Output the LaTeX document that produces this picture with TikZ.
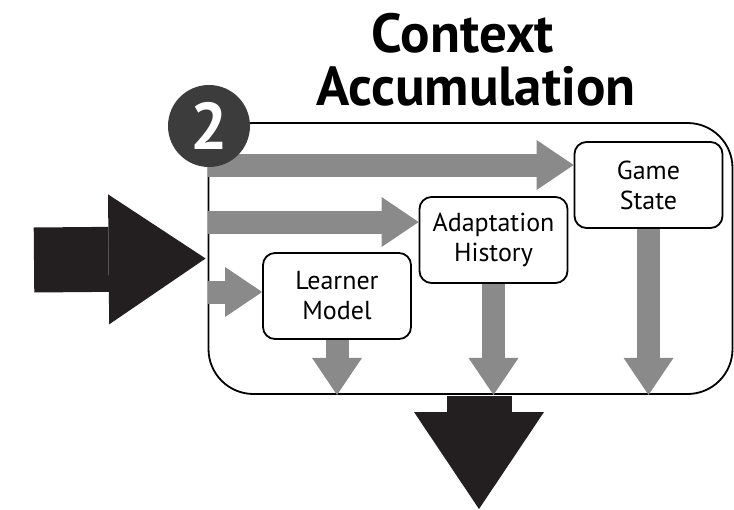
\documentclass[tikz,border=0pt]{standalone}
\usepackage{fontspec}
\setmainfont{PT Sans}
\newfontfamily\headfont{PT Sans}
\usetikzlibrary{arrows.meta}
\definecolor{arrowgray}{HTML}{8A8A8A}
\definecolor{arrowblack}{HTML}{231F20}
\definecolor{badgegray}{HTML}{3C3C3C}
\begin{document}
\begin{tikzpicture}[x=1pt, y=-1pt,
    box/.style={draw, line width=1.8pt, rounded corners=12pt, fill=white, minimum width=148pt, minimum height=86pt, align=center, font=\fontsize{26}{30}\selectfont},
    feed/.style={draw=arrowgray, line width=23pt, -{Triangle[length=37pt, width=50pt, line width=0pt]}},
    bigflow/.style={draw=arrowblack, line width=65pt, -{Triangle[length=97pt, width=130pt, line width=0pt]}},
    heading/.style={anchor=base, font=\headfont\bfseries\fontsize{55}{53}\selectfont}]
  \useasboundingbox (0,0) rectangle (734,509);
  \node[heading] (ctx) at (463,52) {Context};
  \node[heading] (acc) at (476,105) {Accumulation};
  \node[draw, line width=1.8pt, rounded corners=45pt, minimum width=524pt, minimum height=271pt] (frame) at (470.5,258.5) {};
  \node[box] (lm) at (337,296) {Learner\\Model};
  \node[box] (ah) at (493.5,240) {Adaptation\\History};
  \node[box] (gs) at (648.5,185) {Game\\State};
  \coordinate (gs in) at ([yshift=20pt]gs.west);
  \coordinate (ah in) at ([yshift=18pt]ah.west);
  \coordinate (lm in) at ([yshift=4pt]lm.west);
  \draw[feed] (frame.west |- gs in) -- (gs in);
  \draw[feed] (frame.west |- ah in) -- (ah in);
  \draw[feed] (frame.west |- lm in) -- (lm in);
  \draw[feed] (lm.south) -- (lm.south |- frame.south);
  \draw[feed] (ah.south) -- (ah.south |- frame.south);
  \draw[feed] (gs.south) -- (gs.south |- frame.south);
  \coordinate (in) at (34,260);
  \coordinate (out) at (479,509);
  \draw[bigflow] (in) -- ([xshift=-2pt]frame.west);
  \draw[bigflow] ([yshift=-1pt]frame.south -| out) -- (out);
  \node[circle, fill=badgegray, minimum size=82pt, inner sep=0pt, text=white, font=\headfont\bfseries\fontsize{66}{66}\selectfont] (step2) at (209,126) {2};
\end{tikzpicture}
\end{document}
